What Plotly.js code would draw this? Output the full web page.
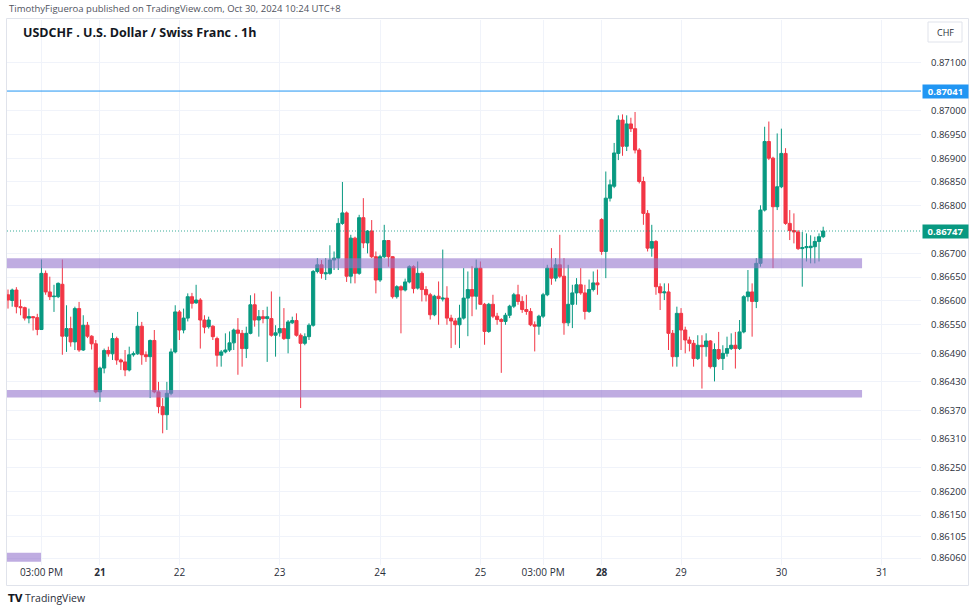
<!DOCTYPE html>
<html>
<head>
<meta charset="utf-8">
<script src="https://cdn.plot.ly/plotly-3.0.1.min.js"></script>
<style>html,body{margin:0;padding:0;background:#fff;}#chart{width:975px;height:610px;}</style>
</head>
<body>
<div id="chart"></div>
<script>
// Hourly candles USDCHF, Fri Oct 18 07:00 -> Wed Oct 30 10:00 (UTC+8), weekend hours removed
const openP = [0.86613,0.86601,0.86623,0.86588,0.86586,0.86564,0.86567,0.86565,0.86540,0.86658,
0.86619,0.86609,0.86609,0.86635,0.86526,0.86542,0.86514,0.86584,0.86497,0.86549,
0.86526,0.86510,0.86409,0.86459,0.86496,0.86489,0.86521,0.86476,0.86472,0.86455,
0.86487,0.86489,0.86547,0.86487,0.86483,0.86517,0.86409,0.86378,0.86361,0.86406,
0.86493,0.86577,0.86539,0.86564,0.86609,0.86596,0.86602,0.86560,0.86546,0.86547,
0.86521,0.86486,0.86493,0.86497,0.86512,0.86539,0.86532,0.86500,0.86532,0.86592,
0.86560,0.86567,0.86563,0.86563,0.86528,0.86533,0.86542,0.86521,0.86554,0.86559,
0.86528,0.86511,0.86525,0.86549,0.86662,0.86676,0.86657,0.86658,0.86686,0.86690,
0.86763,0.86785,0.86652,0.86732,0.86658,0.86775,0.86722,0.86747,0.86693,0.86644,
0.86693,0.86727,0.86693,0.86609,0.86630,0.86623,0.86640,0.86672,0.86627,0.86658,
0.86624,0.86613,0.86571,0.86610,0.86604,0.86606,0.86564,0.86558,0.86550,0.86564,
0.86606,0.86624,0.86610,0.86669,0.86593,0.86536,0.86593,0.86568,0.86561,0.86557,
0.86570,0.86589,0.86613,0.86599,0.86582,0.86578,0.86550,0.86547,0.86568,0.86613,
0.86669,0.86648,0.86676,0.86652,0.86554,0.86593,0.86617,0.86634,0.86617,0.86578,
0.86624,0.86638,0.86771,0.86704,0.86816,0.86841,0.86910,0.86980,0.86925,0.86972,
0.86962,0.86917,0.86851,0.86784,0.86711,0.86725,0.86630,0.86617,0.86619,0.86532,
0.86483,0.86574,0.86539,0.86518,0.86511,0.86479,0.86507,0.86504,0.86516,0.86462,
0.86498,0.86479,0.86490,0.86500,0.86507,0.86500,0.86535,0.86609,0.86619,0.86599,
0.86679,0.86791,0.86935,0.86900,0.86798,0.86840,0.86910,0.86763,0.86748,0.86745,
0.86710,0.86712,0.86712,0.86714,0.86725,0.86735];
const highP = [0.86624,0.86626,0.86629,0.86603,0.86588,0.86584,0.86568,0.86573,0.86687,0.86664,
0.86651,0.86634,0.86639,0.86687,0.86591,0.86567,0.86588,0.86598,0.86570,0.86556,
0.86528,0.86518,0.86462,0.86500,0.86504,0.86533,0.86525,0.86479,0.86497,0.86504,
0.86494,0.86577,0.86556,0.86494,0.86519,0.86539,0.86430,0.86396,0.86430,0.86500,
0.86591,0.86581,0.86584,0.86616,0.86617,0.86634,0.86606,0.86570,0.86567,0.86549,
0.86525,0.86497,0.86532,0.86536,0.86542,0.86564,0.86539,0.86546,0.86612,0.86616,
0.86581,0.86581,0.86588,0.86620,0.86549,0.86609,0.86585,0.86560,0.86567,0.86574,
0.86532,0.86532,0.86553,0.86665,0.86690,0.86686,0.86690,0.86717,0.86704,0.86774,
0.86850,0.86788,0.86739,0.86735,0.86781,0.86816,0.86749,0.86770,0.86704,0.86697,
0.86760,0.86728,0.86694,0.86633,0.86633,0.86647,0.86675,0.86675,0.86683,0.86662,
0.86631,0.86617,0.86613,0.86641,0.86708,0.86631,0.86571,0.86564,0.86592,0.86669,
0.86662,0.86673,0.86687,0.86683,0.86596,0.86596,0.86613,0.86575,0.86564,0.86575,
0.86592,0.86617,0.86634,0.86610,0.86613,0.86585,0.86557,0.86571,0.86617,0.86676,
0.86711,0.86690,0.86739,0.86690,0.86676,0.86634,0.86648,0.86669,0.86634,0.86645,
0.86662,0.86666,0.86774,0.86872,0.86855,0.86932,0.86990,0.86992,0.86990,0.86985,
0.86997,0.86921,0.86861,0.86791,0.86760,0.86728,0.86637,0.86637,0.86637,0.86539,
0.86588,0.86585,0.86546,0.86525,0.86518,0.86528,0.86528,0.86532,0.86518,0.86511,
0.86535,0.86507,0.86525,0.86532,0.86535,0.86560,0.86612,0.86665,0.86637,0.86690,
0.86801,0.86966,0.86977,0.86903,0.86952,0.86962,0.86921,0.86791,0.86784,0.86749,
0.86745,0.86742,0.86738,0.86735,0.86742,0.86756];
const lowP = [0.86584,0.86588,0.86574,0.86570,0.86559,0.86553,0.86538,0.86528,0.86539,0.86613,
0.86602,0.86577,0.86606,0.86487,0.86493,0.86504,0.86497,0.86493,0.86495,0.86522,
0.86498,0.86406,0.86388,0.86448,0.86483,0.86476,0.86466,0.86455,0.86442,0.86452,
0.86483,0.86487,0.86466,0.86472,0.86396,0.86406,0.86364,0.86322,0.86329,0.86402,
0.86490,0.86518,0.86532,0.86557,0.86584,0.86594,0.86500,0.86532,0.86542,0.86518,
0.86462,0.86462,0.86490,0.86493,0.86497,0.86445,0.86462,0.86480,0.86530,0.86546,
0.86525,0.86553,0.86472,0.86525,0.86483,0.86525,0.86518,0.86490,0.86552,0.86525,
0.86375,0.86507,0.86518,0.86546,0.86658,0.86647,0.86644,0.86655,0.86665,0.86665,
0.86760,0.86640,0.86637,0.86637,0.86655,0.86711,0.86700,0.86690,0.86616,0.86640,
0.86690,0.86672,0.86605,0.86605,0.86532,0.86620,0.86637,0.86616,0.86624,0.86599,
0.86599,0.86561,0.86568,0.86550,0.86599,0.86550,0.86501,0.86508,0.86501,0.86561,
0.86526,0.86568,0.86582,0.86592,0.86508,0.86533,0.86564,0.86550,0.86449,0.86550,
0.86564,0.86585,0.86592,0.86575,0.86571,0.86547,0.86494,0.86529,0.86564,0.86610,
0.86634,0.86641,0.86648,0.86529,0.86547,0.86543,0.86592,0.86613,0.86561,0.86575,
0.86620,0.86613,0.86697,0.86648,0.86809,0.86837,0.86896,0.86905,0.86915,0.86955,
0.86910,0.86847,0.86760,0.86704,0.86693,0.86613,0.86581,0.86602,0.86497,0.86462,
0.86462,0.86497,0.86490,0.86494,0.86462,0.86476,0.86416,0.86483,0.86458,0.86431,
0.86476,0.86455,0.86483,0.86497,0.86458,0.86497,0.86532,0.86599,0.86525,0.86585,
0.86672,0.86788,0.86896,0.86669,0.86791,0.86837,0.86760,0.86728,0.86721,0.86707,
0.86630,0.86683,0.86679,0.86679,0.86683,0.86732];
const closeP = [0.86602,0.86623,0.86588,0.86586,0.86564,0.86567,0.86565,0.86540,0.86658,0.86619,
0.86609,0.86610,0.86637,0.86526,0.86542,0.86514,0.86584,0.86497,0.86549,0.86526,
0.86510,0.86409,0.86459,0.86496,0.86489,0.86521,0.86476,0.86472,0.86455,0.86487,
0.86489,0.86547,0.86487,0.86483,0.86517,0.86409,0.86378,0.86361,0.86406,0.86493,
0.86577,0.86539,0.86564,0.86609,0.86595,0.86602,0.86560,0.86545,0.86560,0.86525,
0.86486,0.86493,0.86497,0.86512,0.86539,0.86532,0.86500,0.86532,0.86592,0.86560,
0.86567,0.86563,0.86567,0.86528,0.86533,0.86542,0.86521,0.86556,0.86559,0.86528,
0.86511,0.86525,0.86549,0.86662,0.86676,0.86658,0.86659,0.86686,0.86690,0.86763,
0.86785,0.86652,0.86732,0.86658,0.86775,0.86722,0.86747,0.86693,0.86644,0.86693,
0.86727,0.86693,0.86609,0.86630,0.86623,0.86640,0.86672,0.86626,0.86658,0.86624,
0.86613,0.86571,0.86610,0.86605,0.86606,0.86564,0.86558,0.86550,0.86564,0.86606,
0.86624,0.86610,0.86669,0.86593,0.86536,0.86593,0.86568,0.86561,0.86557,0.86570,
0.86589,0.86613,0.86599,0.86582,0.86578,0.86550,0.86547,0.86568,0.86613,0.86669,
0.86648,0.86676,0.86652,0.86554,0.86593,0.86617,0.86634,0.86617,0.86578,0.86624,
0.86638,0.86634,0.86704,0.86816,0.86844,0.86911,0.86980,0.86925,0.86972,0.86962,
0.86917,0.86851,0.86784,0.86711,0.86725,0.86630,0.86617,0.86619,0.86532,0.86483,
0.86574,0.86539,0.86518,0.86511,0.86479,0.86507,0.86504,0.86516,0.86462,0.86498,
0.86479,0.86490,0.86500,0.86507,0.86500,0.86535,0.86609,0.86619,0.86599,0.86679,
0.86791,0.86935,0.86900,0.86798,0.86840,0.86910,0.86763,0.86748,0.86745,0.86710,
0.86712,0.86714,0.86715,0.86725,0.86735,0.86747];

// Axis ticks (bar index -> label)
const xTickIdx  = [8, 22, 41, 65, 89, 113, 128, 142, 161, 185, 209];
const xTickText = ["03:00 PM", "<b>21</b>", "22", "23", "24", "25", "03:00 PM", "<b>28</b>", "29", "30", "31"];
const yTickVals = [0.87100, 0.87000, 0.86950, 0.86900, 0.86850, 0.86800, 0.86700, 0.86650,
                   0.86600, 0.86550, 0.86490, 0.86430, 0.86370, 0.86310, 0.86250, 0.86200, 0.86150, 0.86105, 0.86060];

// Drawn levels
const resistanceZone = [0.86669, 0.86690];
const supportZone    = [0.86397, 0.86413];
const cornerZone     = [0.86052, 0.86071];
const blueLevel      = 0.87041;
const lastPrice      = closeP[closeP.length - 1];

const idx = openP.map((_, i) => i);

const candles = {
  type: 'candlestick', x: idx, open: openP, high: highP, low: lowP, close: closeP,
  increasing: {line: {color: '#089981', width: 1}, fillcolor: '#089981'},
  decreasing: {line: {color: '#f23645', width: 1}, fillcolor: '#f23645'},
  whiskerwidth: 0, hoverinfo: 'skip', showlegend: false
};

const L = 7, R = 54, T = 20, B = 45, W = 975, H = 610;
const pw = W - L - R, ph = H - T - B;
const px = p => (p - L) / pw;          // pixel x -> paper
const py = q => (H - B - q) / ph;      // pixel y -> paper

const purple = '#9575cd';
const zoneShape = (z, x0, x1) => ({type: 'rect', xref: 'x', yref: 'y', x0: x0, x1: x1, y0: z[0], y1: z[1],
  fillcolor: purple, opacity: 0.6, line: {width: 0}, layer: 'above'});

const font = '"Open Sans", "Noto Sans", Roboto, sans-serif';

const layout = {
  width: W, height: H,
  margin: {l: L, r: R, t: T, b: B, pad: 0},
  paper_bgcolor: '#ffffff', plot_bgcolor: '#ffffff',
  font: {family: font, size: 10, color: '#131722'},
  boxgap: 0.25, boxgroupgap: 0,
  showlegend: false,
  xaxis: {
    range: [-0.24, 218.4], rangeslider: {visible: false},
    tickmode: 'array', tickvals: xTickIdx, ticktext: xTickText,
    showgrid: true, gridcolor: '#f0f3fa', gridwidth: 1, zeroline: false, showline: false,
    ticks: '', tickfont: {size: 10, color: '#2a2e39', family: font}, fixedrange: true
  },
  yaxis: {
    side: 'right', range: [0.860453, 0.871903],
    tickmode: 'array', tickvals: yTickVals, ticktext: yTickVals.map(v => v.toFixed(5)),
    showgrid: true, gridcolor: '#f0f3fa', gridwidth: 1, zeroline: false, showline: false,
    ticks: '', ticklabelstandoff: 9, tickfont: {size: 9.5, color: '#2a2e39', family: font}, fixedrange: true
  },
  shapes: [
    zoneShape(resistanceZone, -1, 204.3),
    zoneShape(supportZone, -1, 204.3),
    zoneShape(cornerZone, -1, 7.9),
    {type: 'line', xref: 'paper', yref: 'y', x0: 0, x1: 1, y0: blueLevel, y1: blueLevel,
     line: {color: '#2196f3', width: 1}},
    {type: 'line', xref: 'paper', yref: 'y', x0: 0, x1: 1, y0: lastPrice, y1: lastPrice,
     line: {color: 'rgba(8,153,129,0.8)', width: 1, dash: '1px,2px'}},
    {type: 'rect', xref: 'paper', yref: 'paper', x0: px(6.5), x1: px(968.5), y0: py(585.5), y1: py(18.5),
     line: {color: '#e0e3eb', width: 1}, fillcolor: 'rgba(0,0,0,0)'},
    {type: 'rect', xref: 'paper', yref: 'paper', x0: px(928), x1: px(962), y0: py(42), y1: py(22),
     line: {color: '#e0e3eb', width: 1}, fillcolor: '#ffffff'}
  ],
  annotations: [
    {xref: 'paper', yref: 'paper', x: px(7), y: py(9), xanchor: 'left', yanchor: 'middle', showarrow: false,
     text: 'TimothyFigueroa published on TradingView.com, Oct 30, 2024 10:24 UTC+8',
     font: {size: 9.5, color: '#50535e', family: font}},
    {xref: 'paper', yref: 'paper', x: px(21), y: py(33), xanchor: 'left', yanchor: 'middle', showarrow: false,
     text: '<b>USDCHF . U.S. Dollar / Swiss Franc . 1h</b>',
     font: {size: 12.5, color: '#131722', family: font}},
    {xref: 'paper', yref: 'paper', x: px(945), y: py(32), xanchor: 'center', yanchor: 'middle', showarrow: false,
     text: 'CHF', font: {size: 9, color: '#2a2e39', family: font}},
    {xref: 'paper', yref: 'y', x: 1, y: blueLevel, xanchor: 'left', yanchor: 'middle', xshift: 1, showarrow: false,
     text: '<b>' + blueLevel.toFixed(5) + '</b>', bgcolor: '#2196f3', width: 44, height: 12, borderpad: 0.5,
     font: {size: 9.5, color: '#ffffff', family: font}},
    {xref: 'paper', yref: 'y', x: 1, y: lastPrice, xanchor: 'left', yanchor: 'middle', xshift: 1, showarrow: false,
     text: '<b>' + lastPrice.toFixed(5) + '</b>', bgcolor: '#089981', width: 44, height: 12, borderpad: 0.5,
     font: {size: 9.5, color: '#ffffff', family: font}},
    {xref: 'paper', yref: 'paper', x: px(6), y: py(598), xanchor: 'left', yanchor: 'middle', showarrow: false,
     text: '<b>TV</b>', font: {size: 10, color: '#131722', family: '"DejaVu Sans", sans-serif'}},
    {xref: 'paper', yref: 'paper', x: px(23), y: py(598), xanchor: 'left', yanchor: 'middle', showarrow: false,
     text: 'TradingView', font: {size: 10.5, color: '#2a2e39', family: font}}
  ]
};

Plotly.newPlot('chart', [candles], layout, {staticPlot: true, displayModeBar: false});
</script>
</body>
</html>
